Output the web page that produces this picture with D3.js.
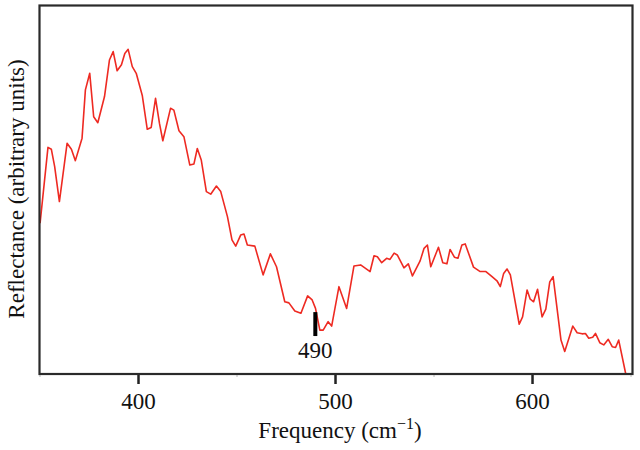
<!DOCTYPE html>
<html>
<head>
    <meta charset="utf-8">
    <title>Reflectance spectrum</title>
    <script src="https://d3js.org/d3.v7.min.js"></script>
    <style>
        body { margin: 0; background: #fff; }
        text { font-family: "Liberation Serif", "Times New Roman", serif; fill: #111; }
    </style>
</head>
<body>
    <div id="chart"></div>
    <script>
        // spectrum (frequency in cm^-1, reflectance in arbitrary units)
        const freq = [
            350.3, 354.3, 356.0, 357.7, 360.1, 364.0, 366.2, 368.2, 371.6, 373.3,
            375.5, 377.5, 379.6, 383.0, 385.5, 387.4, 389.4, 391.6, 393.3, 395.0,
            397.1, 399.1, 402.2, 404.7, 406.7, 408.9, 410.9, 412.6, 416.5, 418.2,
            420.8, 423.3, 426.3, 428.4, 430.1, 432.1, 434.7, 436.9, 439.8, 442.0,
            445.4, 447.7, 449.6, 452.1, 453.8, 455.5, 459.3, 463.5, 467.2, 470.3,
            474.5, 476.6, 479.6, 482.7, 486.1, 488.4, 490.1, 492.3, 494.0, 496.5,
            498.3, 502.0, 505.9, 509.6, 513.0, 517.8, 519.8, 521.5, 523.7, 526.2,
            527.9, 530.0, 531.6, 535.0, 537.2, 539.3, 543.2, 545.2, 546.9, 548.6,
            552.5, 554.7, 556.8, 558.4, 560.6, 562.4, 564.4, 566.1, 570.3, 573.7,
            576.6, 579.7, 582.2, 583.9, 585.6, 587.3, 589.0, 593.5, 595.2, 597.5,
            599.1, 600.8, 602.8, 605.1, 607.0, 609.0, 610.7, 613.0, 614.7, 616.6,
            620.7, 622.9, 625.4, 627.1, 628.8, 630.8, 632.2, 634.4, 636.4, 638.7,
            640.7, 642.4, 644.0, 647.5
        ];
        const refl = [
            40.9, 61.5, 61.0, 56.3, 46.8, 62.6, 61.0, 57.9, 64.0, 77.1,
            81.6, 69.8, 68.2, 75.3, 85.2, 87.5, 82.3, 83.9, 87.0, 88.1,
            83.4, 81.6, 75.5, 66.4, 66.9, 74.8, 68.0, 63.3, 72.1, 71.6,
            66.0, 64.4, 56.7, 57.0, 61.2, 58.1, 49.5, 48.8, 51.0, 49.5,
            42.7, 36.4, 34.7, 37.7, 38.0, 35.0, 34.7, 26.9, 32.6, 29.1,
            19.6, 19.3, 17.1, 16.5, 21.2, 20.1, 17.8, 11.9, 11.9, 14.2,
            13.0, 23.7, 17.8, 29.3, 29.6, 27.8, 32.1, 31.8, 30.2, 31.4,
            31.1, 32.8, 32.3, 28.8, 29.9, 26.6, 30.7, 34.1, 35.0, 29.1,
            34.4, 30.2, 29.9, 33.8, 31.7, 31.4, 35.0, 35.3, 29.0, 27.8,
            27.8, 26.4, 25.3, 23.7, 27.3, 28.5, 26.9, 13.5, 15.5, 22.8,
            20.3, 19.6, 23.0, 15.5, 17.6, 25.0, 26.4, 16.5, 9.2, 6.1,
            13.0, 11.2, 10.9, 11.0, 9.7, 10.0, 11.0, 8.5, 7.9, 9.4,
            7.4, 7.2, 9.2, 0.2
        ];
        const xTicks = [400, 500, 600];
        const xMinorTicks = [350, 450, 550, 650];
        // marked feature
        const markFreq = 490;
        const markRange = [10.3, 16.8];
        const markLabel = "490";

        const width = 640;
        const height = 450;
        const margin = { top: 5.5, right: 7.5, bottom: 76, left: 39.5 };

        const svg = d3.select("#chart")
            .append("svg")
            .attr("width", width)
            .attr("height", height);

        const x = d3.scaleLinear()
            .domain([350, 651])
            .range([margin.left, width - margin.right]);

        const y = d3.scaleLinear()
            .domain([0, 100])
            .range([height - margin.bottom, margin.top]);

        const points = freq.map((f, i) => [f, refl[i]]);

        // minor ticks (faint)
        svg.append("g")
            .attr("transform", "translate(0," + y(0) + ")")
            .call(d3.axisBottom(x).tickValues(xMinorTicks).tickSize(3).tickFormat(""))
            .call(g => g.select(".domain").remove())
            .call(g => g.selectAll("line").attr("stroke", "#bbb").attr("stroke-width", 1));

        // major ticks
        const xAxis = svg.append("g")
            .attr("transform", "translate(0," + y(0) + ")")
            .call(d3.axisBottom(x).tickValues(xTicks).tickSize(10).tickPadding(9));
        xAxis.select(".domain").remove();
        xAxis.selectAll("line").attr("stroke", "#222").attr("stroke-width", 2.5);
        xAxis.selectAll("text")
            .style("font-family", "'Liberation Serif', serif")
            .style("font-size", "23px")
            .attr("fill", "#111");

        // spectrum line
        const line = d3.line()
            .x(d => x(d[0]))
            .y(d => y(d[1]));

        svg.append("path")
            .datum(points)
            .attr("fill", "none")
            .attr("stroke", "#ee2a22")
            .attr("stroke-width", 1.6)
            .attr("stroke-linejoin", "round")
            .attr("d", line);

        // frame
        svg.append("rect")
            .attr("x", x(350))
            .attr("y", y(100))
            .attr("width", x(651) - x(350))
            .attr("height", y(0) - y(100))
            .attr("fill", "none")
            .attr("stroke", "#2a2a2a")
            .attr("stroke-width", 2.2);

        // 490 marker
        svg.append("line")
            .attr("x1", x(markFreq))
            .attr("x2", x(markFreq))
            .attr("y1", y(markRange[1]))
            .attr("y2", y(markRange[0]))
            .attr("stroke", "#000")
            .attr("stroke-width", 4);

        svg.append("text")
            .attr("x", x(markFreq))
            .attr("y", y(markRange[0]) + 22)
            .attr("text-anchor", "middle")
            .style("font-size", "23px")
            .text(markLabel);

        // axis titles
        const xTitle = svg.append("text")
            .attr("x", 340)
            .attr("y", 438)
            .attr("text-anchor", "middle")
            .style("font-size", "23px");
        xTitle.append("tspan").text("Frequency (cm");
        xTitle.append("tspan").attr("dy", -9).style("font-size", "16px").text("\u22121");
        xTitle.append("tspan").attr("dy", 9).text(")");

        svg.append("text")
            .attr("transform", "translate(24," + 189 + ") rotate(-90)")
            .attr("text-anchor", "middle")
            .style("font-size", "23px")
            .text("Reflectance (arbitrary units)");
    </script>
</body>
</html>
